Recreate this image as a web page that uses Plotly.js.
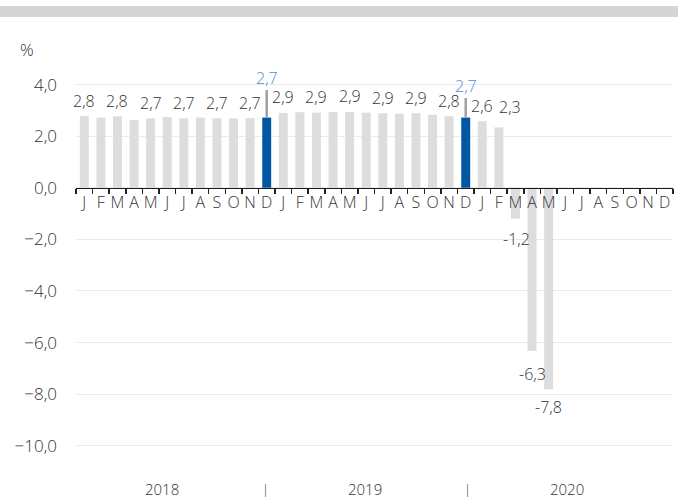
<!DOCTYPE html>
<html>
<head>
<meta charset="utf-8">
<script src="https://cdn.plot.ly/plotly-3.0.1.min.js"></script>
<style>
  html, body { margin: 0; padding: 0; background: #fff; }
  #band { position: absolute; left: 0; top: 6px; width: 678px; height: 11px; background: #d4d5d4; }
  #chart { position: absolute; left: 0; top: 0; width: 678px; height: 500px; }
</style>
</head>
<body>
<div id="chart"></div>
<div id="band"></div>
<script>
// ---- data ----
const years = ['2018', '2019', '2020'];
const monthInitials = ['J', 'F', 'M', 'A', 'M', 'J', 'J', 'A', 'S', 'O', 'N', 'D'];

const values2018 = [2.78, 2.72, 2.77, 2.63, 2.69, 2.74, 2.69, 2.72, 2.69, 2.69, 2.70, 2.72];
const values2019 = [2.90, 2.93, 2.91, 2.94, 2.94, 2.91, 2.89, 2.87, 2.89, 2.83, 2.77, 2.72];
const values2020 = [2.58, 2.34, -1.2, -6.32, -7.81, null, null, null, null, null, null, null];

const labels2018 = ['2,8', null, '2,8', null, '2,7', null, '2,7', null, '2,7', null, '2,7', '2,7'];
const labels2019 = ['2,9', null, '2,9', null, '2,9', null, '2,9', null, '2,9', null, '2,8', '2,7'];
const labels2020 = ['2,6', '2,3', '-1,2', '-6,3', '-7,8', null, null, null, null, null, null, null];

const highlighted = ['2018-12', '2019-12'];

// ---- derived ----
const categories = [];
const tickText = [];
years.forEach(y => monthInitials.forEach((m, i) => {
  categories.push(y + '-' + String(i + 1).padStart(2, '0'));
  tickText.push(m);
}));
const values = values2018.concat(values2019, values2020);
const labels = labels2018.concat(labels2019, labels2020);

const GRAY = '#dddddd';
const BLUE = '#0058a3';
const LABEL_BLUE = '#4a8dcc';
const TEXT = '#333333';
const FONT = 'Open Sans, DejaVu Sans, sans-serif';
const W = 300;

const colors = categories.map(c => highlighted.includes(c) ? BLUE : GRAY);

const yMin = -10.55, yMax = 4.37;

// label placement tweaks (styling only)
const arrowOffsets = { '2018-12': -40, '2019-12': -32 };
const labelShift = { '2020-02': { x: 11, y: 20 }, '2020-03': { x: 1, y: -20 }, '2020-04': { x: 0, y: -23 }, '2020-05': { x: 0, y: -18 } };

const annotations = [];
categories.forEach((c, i) => {
  const t = labels[i];
  if (t === null) return;
  const v = values[i];
  if (highlighted.includes(c)) {
    annotations.push({
      x: c, y: v, xref: 'x', yref: 'y', text: t,
      showarrow: true, arrowhead: 0, arrowwidth: 2.5, arrowcolor: '#a0a0a0',
      ax: 0, ay: arrowOffsets[c], standoff: 0,
      font: { family: FONT, size: 16, weight: W, color: LABEL_BLUE }
    });
  } else {
    const s = labelShift[c] || { x: 0, y: v >= 0 ? 15.5 : -20 };
    annotations.push({
      x: c, y: v, xref: 'x', yref: 'y', text: t, showarrow: false,
      xshift: s.x, yshift: s.y, yanchor: 'middle',
      font: { family: FONT, size: 16, weight: W, color: TEXT }
    });
  }
});

// year labels and separators under the axis
const yearPositions = [4.7, 16.9, 29.1];
years.forEach((y, k) => annotations.push({
  x: yearPositions[k], y: -0.076, xref: 'x', yref: 'paper', text: y, showarrow: false,
  yanchor: 'middle', font: { family: FONT, size: 15, weight: W, color: TEXT }
}));
[10.9, 23.1].forEach(p => annotations.push({
  x: p, y: -0.076, xref: 'x', yref: 'paper', text: '|', showarrow: false,
  yanchor: 'middle', font: { family: FONT, size: 13, weight: W, color: '#333' }
}));

// unit label
annotations.push({
  x: -0.082, y: 1.065, xref: 'paper', yref: 'paper', text: '%', showarrow: false,
  xanchor: 'center', yanchor: 'middle', font: { family: FONT, size: 17, weight: W, color: TEXT }
});

const trace = {
  type: 'bar', x: categories, y: values,
  marker: { color: colors, line: { width: 0 } },
  hoverinfo: 'x+y'
};

const layout = {
  width: 678, height: 500,
  margin: { l: 76, r: 5, t: 75, b: 40 },
  paper_bgcolor: 'rgba(0,0,0,0)', plot_bgcolor: '#fff',
  separators: ',.',
  bargap: 0.46,
  showlegend: false,
  font: { family: FONT, color: TEXT },
  xaxis: {
    type: 'category', range: [-0.5, 35.5],
    tickvals: categories, ticktext: tickText, tickangle: 0,
    tickson: 'boundaries', ticks: 'outside', ticklen: 5, tickwidth: 1.5, tickcolor: '#222',
    showline: true, linecolor: '#1a1a1a', linewidth: 1.5,
    showgrid: false, zeroline: false,
    anchor: 'free', position: (0 - yMin) / (yMax - yMin),
    tickfont: { family: FONT, size: 16, weight: W, color: TEXT },
    fixedrange: true
  },
  yaxis: {
    range: [yMin, yMax],
    tickvals: [-10, -8, -6, -4, -2, 0, 2, 4], tickformat: '.1f',
    showgrid: true, gridcolor: '#ebebeb', gridwidth: 1,
    zeroline: false, showline: false, ticks: '',
    ticklabelstandoff: 18,
    tickfont: { family: FONT, size: 17, weight: W, color: TEXT },
    fixedrange: true
  },
  annotations: annotations
};

Plotly.newPlot('chart', [trace], layout, { displayModeBar: false, staticPlot: true });
</script>
</body>
</html>
